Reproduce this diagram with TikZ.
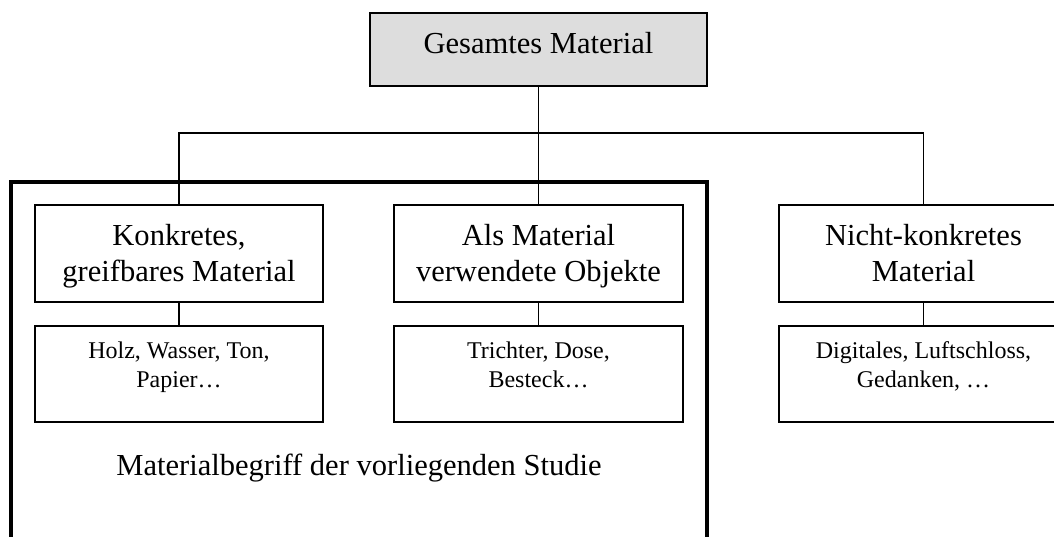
\documentclass[tikz,border=0pt]{standalone}
\usepackage{fontspec}
\setmainfont{Liberation Serif}
\definecolor{boxgray}{HTML}{DDDDDD}
\begin{document}
\begin{tikzpicture}[x=0.75pt,y=-0.75pt,
  box/.style={draw=black,line width=1.4pt,inner sep=0pt},
  bigtext/.style={inner sep=0pt,anchor=base,align=center,font=\fontsize{22.9pt}{27pt}\selectfont},
  smalltext/.style={inner sep=0pt,anchor=base,align=center,font=\fontsize{18pt}{21.2pt}\selectfont},
  conn/.style={draw=black,line width=1.4pt},
  frameline/.style={draw=black,line width=2.8pt,inner sep=0pt}
]
\clip (0,0) rectangle (1054,536);
% frame of the study
\node[frameline,minimum width=522pt,minimum height=272.25pt] (study) at (359,363.5) {};
\node[bigtext] (studylabel) at (359,475) {Materialbegriff der vorliegenden Studie};
% top box
\node[box,fill=boxgray,minimum width=252.75pt,minimum height=54.75pt] (top) at (538.5,49.5) {};
\node[bigtext] (toptext) at (538.5,53) {Gesamtes Material};
% middle boxes
\node[box,minimum width=216pt,minimum height=72.75pt] (b1) at (179,253.5) {};
\node[box,minimum width=216.75pt,minimum height=72.75pt] (b2) at (538.5,253.5) {};
\node[box,minimum width=216.75pt,minimum height=72.75pt] (b3) at (923.5,253.5) {};
\node[bigtext] (b1text) at (179,281) {Konkretes,\\greifbares Material};
\node[bigtext] (b2text) at (538.5,281) {Als Material\\verwendete Objekte};
\node[bigtext] (b3text) at (923.5,281) {Nicht-konkretes\\Material};
% lower boxes
\node[box,minimum width=216pt,minimum height=72pt] (l1) at (179,374) {};
\node[box,minimum width=216.75pt,minimum height=72pt] (l2) at (538.5,374) {};
\node[box,minimum width=216.75pt,minimum height=72pt] (l3) at (923.5,374) {};
\node[smalltext] (l1text) at (179,387) {Holz, Wasser, Ton,\\Papier…};
\node[smalltext] (l2text) at (538.5,387) {Trichter, Dose,\\Besteck…};
\node[smalltext] (l3text) at (923.5,387) {Digitales, Luftschloss,\\Gedanken, …};
% connectors
\coordinate (bus) at (538.5,133);
\draw[conn] (top.south) -- (b2.north);
\draw[conn] (b1.north) |- (bus) -| (b3.north);
\draw[conn] (b1.south) -- (l1.north);
\draw[conn] (b2.south) -- (l2.north);
\draw[conn] (b3.south) -- (l3.north);
\end{tikzpicture}
\end{document}
